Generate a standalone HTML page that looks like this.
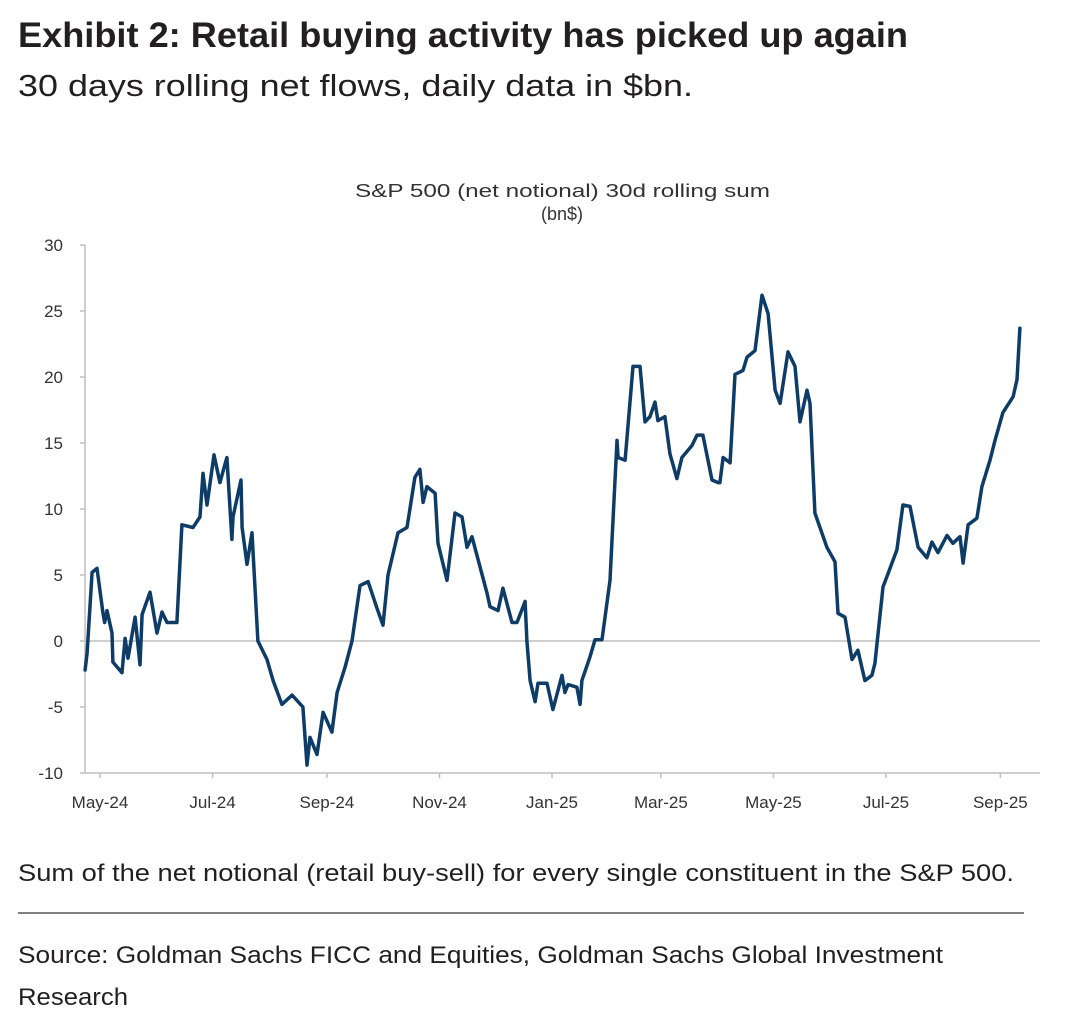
<!DOCTYPE html>
<html><head><meta charset="utf-8"><style>
html,body{margin:0;padding:0;background:#fff;}
svg{display:block;}
text{font-family:"Liberation Sans Narrow","Liberation Sans",sans-serif;}
</style></head><body>
<svg id="chart" width="1076" height="1020" viewBox="0 0 1076 1020" xmlns="http://www.w3.org/2000/svg">
<text x="18" y="47" font-size="35" font-weight="bold" fill="#231f20" textLength="890" lengthAdjust="spacingAndGlyphs">Exhibit 2: Retail buying activity has picked up again</text>
<text x="18" y="96" font-size="31" fill="#231f20" textLength="675" lengthAdjust="spacingAndGlyphs">30 days rolling net flows, daily data in $bn.</text>
<text x="355" y="197" font-size="18" fill="#333" textLength="415" lengthAdjust="spacingAndGlyphs" style="font-family:'Liberation Sans',sans-serif">S&amp;P 500 (net notional) 30d rolling sum</text>
<text x="562" y="220" font-size="18" fill="#333" text-anchor="middle" style="font-family:'Liberation Sans',sans-serif">(bn$)</text>
<g id="axes"></g>
<g id="series"></g>
<text x="18" y="881" font-size="24" fill="#231f20" textLength="996" lengthAdjust="spacingAndGlyphs">Sum of the net notional (retail buy-sell) for every single constituent in the S&amp;P 500.</text>
<line x1="18" y1="913" x2="1024" y2="913" stroke="#555" stroke-width="1.5"/>
<text x="18" y="963" font-size="24" fill="#231f20" textLength="925" lengthAdjust="spacingAndGlyphs">Source: Goldman Sachs FICC and Equities, Goldman Sachs Global Investment</text>
<text x="18" y="1005" font-size="24" fill="#231f20" textLength="110" lengthAdjust="spacingAndGlyphs">Research</text>
</svg>
<script>
const yTicks = [30, 25, 20, 15, 10, 5, 0, -5, -10];
const xTickLabels = ["May-24","Jul-24","Sep-24","Nov-24","Jan-25","Mar-25","May-25","Jul-25","Sep-25"];
const xTickDays = [0, 61, 123, 184, 245, 304, 365, 426, 488];
const days = [-8.1,-7,-4.3,-1.6,1.6,2.5,3.8,6.5,7,11.9,13.6,15.2,19,21.7,22.8,27.1,30.9,33.6,36.3,41.7,44.4,50.4,54.2,55.8,58,61.8,65,68.8,71.5,72.1,76.4,77,79.7,82.4,85.6,90.5,93.8,98.6,104.1,110,112.2,113.8,117.6,120.9,125.7,128.5,132.8,136.6,140.9,145.3,150.1,153.4,156.1,161.5,166.4,170.7,173.4,175.1,177.2,181.6,183.2,188.1,192.4,196.2,198.9,201.6,209.8,211.4,215.7,218.4,223.3,226,230.4,231.4,233.1,235.8,237.4,242.3,245.5,250.4,252,253.7,258.5,260.2,261.2,265.6,268.3,272.1,276.4,280.2,280.8,284.6,288.9,292.7,295.4,298.1,300.8,302.4,306.2,308.9,312.7,315.4,320.8,323.6,326.8,331.7,335,336,337.7,341.5,344.2,348.5,350.7,355,358.8,362.1,365.9,368.6,372.9,376.7,379.4,383.2,384.8,387.5,394,398.4,400,403.8,407.6,410.8,414.6,418.4,420,424.4,427.1,431.9,435.2,439,443.4,448.2,450.9,454.2,459.1,462.3,466.1,467.8,470.5,475.3,478,482.4,485.1,489.4,494.9,497,498.6];
const values = [-2.2,-0.9,5.2,5.5,2.1,1.4,2.3,0.6,-1.6,-2.4,0.2,-1.3,1.8,-1.8,2.0,3.7,0.6,2.2,1.4,1.4,8.8,8.6,9.4,12.7,10.3,14.1,12.0,13.9,7.7,9.4,12.2,8.6,5.8,8.2,0,-1.4,-3.0,-4.8,-4.1,-5.0,-9.4,-7.3,-8.6,-5.4,-6.9,-3.9,-2.0,0,4.2,4.5,2.5,1.2,5.0,8.2,8.6,12.4,13.0,10.5,11.7,11.2,7.4,4.6,9.7,9.4,7.1,7.9,3.6,2.6,2.3,4.0,1.4,1.4,3.0,0,-3.0,-4.6,-3.2,-3.2,-5.2,-2.6,-3.9,-3.3,-3.5,-4.8,-3.0,-1.2,0.1,0.1,4.6,15.2,13.9,13.7,20.8,20.8,16.6,17.0,18.1,16.7,17.0,14.2,12.3,13.9,14.8,15.6,15.6,12.2,12.0,12.0,13.9,13.5,20.2,20.5,21.5,22.0,26.2,24.8,19.0,18.0,21.9,20.8,16.6,19.0,18.0,9.7,7.1,6.0,2.1,1.8,-1.4,-0.7,-3.0,-2.6,-1.7,4.1,5.1,6.9,10.3,10.2,7.1,6.3,7.5,6.7,8.0,7.4,7.9,5.9,8.8,9.3,11.7,13.7,15.2,17.3,18.5,19.8,23.7];

const NS = "http://www.w3.org/2000/svg";
const axisX = 85, plotRight = 1040, yTop = 245, yBottom = 773;
const x = d => 100 + d * 1.845;
const y = v => yBottom - (v - (-10)) / 40 * (yBottom - yTop);
const axes = document.getElementById('axes');
const series = document.getElementById('series');
function mk(tag, attrs, parent){ const e=document.createElementNS(NS,tag); for(const k in attrs) e.setAttribute(k,attrs[k]); parent.appendChild(e); return e; }

const zl = mk('line',{x1:axisX,x2:plotRight,y1:y(0),y2:y(0),stroke:'#bfbfbf','stroke-width':1.5},axes);


const ya = mk('line',{x1:axisX,x2:axisX,y1:yTop,y2:yBottom,stroke:'#bfbfbf','stroke-width':1.5},axes);


const xa = mk('line',{x1:axisX,x2:plotRight,y1:yBottom,y2:yBottom,stroke:'#bfbfbf','stroke-width':1.5},axes);



yTicks.forEach(v=>{
  const t = mk('line',{x1:axisX-5,x2:axisX,y1:y(v),y2:y(v),stroke:'#bfbfbf','stroke-width':1.5},axes);
  
  
  const l = mk('text',{x:axisX-22,y:y(v)+6,'font-size':17,fill:'#333','text-anchor':'end',style:"font-family:'Liberation Sans',sans-serif"},axes);
  l.textContent = v;
  
  
});
xTickDays.forEach((d,i)=>{
  const t = mk('line',{x1:x(d),x2:x(d),y1:yBottom,y2:yBottom+5,stroke:'#bfbfbf','stroke-width':1.5},axes);
  
  
  const l = mk('text',{x:x(d),y:808,'font-size':17,fill:'#333','text-anchor':'middle',style:"font-family:'Liberation Sans',sans-serif"},axes);
  l.textContent = xTickLabels[i];
  
  
});
const pts = days.map((d,i)=>x(d).toFixed(1)+','+y(values[i]).toFixed(1)).join(' ');
const pl = mk('polyline',{points:pts,fill:'none',stroke:'#0f3c66','stroke-width':3.5,'stroke-linejoin':'round','stroke-linecap':'round'},series);


</script>
</body></html>
